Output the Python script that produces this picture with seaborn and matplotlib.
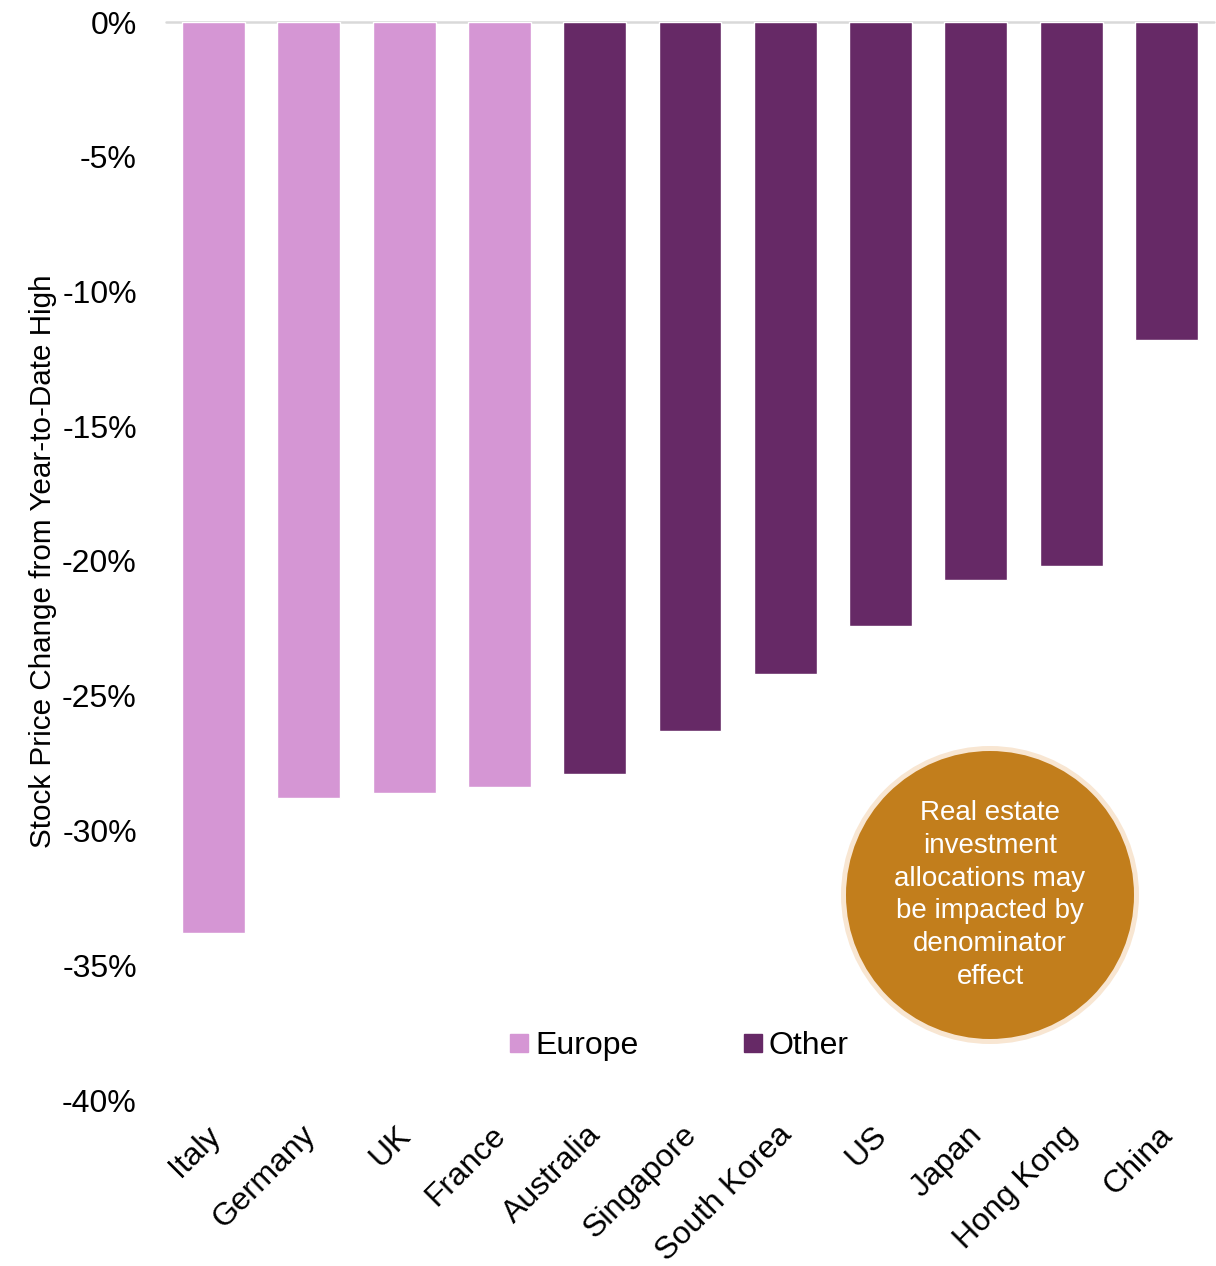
import matplotlib
matplotlib.use("Agg")
import matplotlib.pyplot as plt
from matplotlib.patches import Ellipse
from matplotlib.lines import Line2D
from matplotlib.ticker import FuncFormatter
import matplotlib.transforms as mtransforms
import seaborn as sns
import pandas as pd

countries = ["Italy", "Germany", "UK", "France", "Australia", "Singapore",
             "South Korea", "US", "Japan", "Hong Kong", "China"]
change_pct = [-33.8, -28.8, -28.6, -28.4, -27.9, -26.3, -24.2, -22.4, -20.7, -20.2, -11.8]
regions = ["Europe", "Europe", "Europe", "Europe", "Other", "Other",
           "Other", "Other", "Other", "Other", "Other"]
y_ticks = [0, -5, -10, -15, -20, -25, -30, -35, -40]
palette = {"Europe": "#D596D4", "Other": "#662966"}
note_text = "Real estate\ninvestment\nallocations may\nbe impacted by\ndenominator\neffect"

df = pd.DataFrame({"country": countries, "change": change_pct, "region": regions})

sns.set_theme(style="white")
plt.rcParams["font.family"] = ["Liberation Sans", "DejaVu Sans"]

W, H = 1216, 1266
fig = plt.figure(figsize=(W / 100, H / 100), dpi=100)
ax = fig.add_axes([166 / W, 1 - 1100 / H, (1214 - 166) / W, (1100 - 22) / H])

sns.barplot(data=df, x="country", y="change", hue="region", palette=palette,
            dodge=False, width=0.66, saturation=1, legend=False, ax=ax)

ax.set_ylim(-40, 0)
ax.set_xlim(-0.5, len(countries) - 0.5)
ax.set_yticks(y_ticks)
ax.yaxis.set_major_formatter(FuncFormatter(lambda v, _: f"{v:.0f}%"))
ax.tick_params(axis="y", length=0, pad=21, labelsize=23, labelcolor="black")
ax.tick_params(axis="x", length=0, pad=22, labelsize=23, labelcolor="black")
for lab in ax.get_xticklabels():
    lab.set_rotation(45)
    lab.set_ha("right")
    lab.set_va("center")
    lab.set_rotation_mode("anchor")
    lab.set_transform(lab.get_transform() +
                      mtransforms.ScaledTranslation(2 / 100, 0, fig.dpi_scale_trans))

ax.set_xlabel("")
ax.set_ylabel("Stock Price Change from Year-to-Date High", fontsize=21.3,
              labelpad=4, color="black")
for s in ax.spines.values():
    s.set_visible(False)
ax.axhline(0, color="#d9d9d9", lw=1.8, clip_on=False, zorder=0)

# legend
handles = [Line2D([], [], marker="s", linestyle="", markersize=12.5,
                  markerfacecolor=palette[r], markeredgecolor=palette[r], label=r)
           for r in ["Europe", "Other"]]
fig.legend(handles=handles, loc="center", bbox_to_anchor=(678 / W, 1 - 1046 / H),
           ncol=2, frameon=False, fontsize=23, handletextpad=0.12,
           columnspacing=3.2, handlelength=0.75, labelcolor="black")

# callout disc
cx, cy, r = 990 / W, 1 - 895 / H, 149
fig.patches.append(Ellipse((cx, cy), 2 * r / W, 2 * r / H, transform=fig.transFigure,
                           facecolor="#F8E6D2", edgecolor="none", zorder=5))
r2 = 144
fig.patches.append(Ellipse((cx, cy), 2 * r2 / W, 2 * r2 / H, transform=fig.transFigure,
                           facecolor="#C27E1C", edgecolor="none", zorder=6))
fig.text(cx, cy, note_text, ha="center", va="center", color="white",
         fontsize=20, linespacing=1.34, zorder=7)

fig.savefig("out.png", dpi=100)
